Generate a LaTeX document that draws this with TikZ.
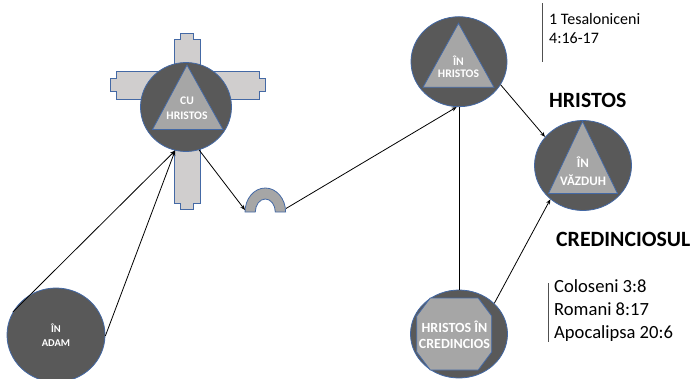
\documentclass[tikz,border=0pt]{standalone}
\usepackage{fontspec}
\setmainfont{Carlito}
\usetikzlibrary{shapes.geometric,arrows.meta,calc}
\definecolor{dk}{RGB}{89,89,89}
\definecolor{edge}{RGB}{68,105,165}
\definecolor{trif}{RGB}{166,166,166}
\definecolor{crossc}{RGB}{208,206,206}
\definecolor{barc}{RGB}{80,80,80}
\begin{document}
\begin{tikzpicture}[x=1pt,y=-1pt,
 disc/.style={ellipse,draw=edge,fill=dk,line width=0.8pt,inner sep=0pt},
 innershape/.style={draw=edge,fill=trif,line width=0.8pt,line join=miter},
 lbl/.style={text=white,align=center,inner sep=0pt},
 conn/.style={draw=black,line width=0.8pt},
 arr/.style={conn,-{Stealth[length=5pt,width=4pt]}},
 reftext/.style={anchor=base west,inner sep=0pt,font=\fontsize{16}{20}\selectfont},
 listtext/.style={anchor=base west,inner sep=0pt,font=\fontsize{18.6}{22}\selectfont},
 bigtext/.style={anchor=base west,inner sep=0pt,font=\fontsize{21.8}{26}\selectfont\bfseries},
 vbar/.style={draw=barc,line width=1.2pt}]
\useasboundingbox (0,0) rectangle (694,378);
\clip (0,0) rectangle (694,378);

% cross
\draw[innershape,fill=crossc] (180.5,33) -- (193.5,33) -- (193.5,39) -- (200,39) -- (200,71.5) -- (259,71.5) -- (259,78.3) -- (265,78.3) -- (265,91.7) -- (259,91.7) -- (259,99) -- (200,99) -- (200,203) -- (193.5,203) -- (193.5,209) -- (180.5,209) -- (180.5,203) -- (174,203) -- (174,99) -- (116.7,99) -- (116.7,91.7) -- (110,91.7) -- (110,78.3) -- (116.7,78.3) -- (116.7,71.5) -- (174,71.5) -- (174,39) -- (180.5,39) -- cycle;

% CU HRISTOS
\node[disc,minimum width=91pt,minimum height=89pt] (cu) at (186,107) {};
\draw[innershape] (187,65) -- (223,129.5) -- (152.5,129.5) -- cycle;
\node[lbl,font=\fontsize{11.6}{15}\selectfont\bfseries] (cut) at (187,108) {CU\\HRISTOS};

% arch
\draw[innershape] (245,212) arc[start angle=180,end angle=360,x radius=20.3,y radius=24] -- (275.3,212) arc[start angle=0,end angle=-180,x radius=10,y radius=13] -- cycle;
\coordinate (archL) at (245,210);
\coordinate (archR) at (286,208.5);

% IN HRISTOS
\node[disc,minimum width=96pt,minimum height=90pt] (inhr) at (459,61.7) {};
\draw[innershape] (458.5,23.3) -- (494,87.3) -- (423,87.3) -- cycle;
\node[lbl,font=\fontsize{11.6}{12.5}\selectfont\bfseries] (inhrt) at (458.5,67) {ÎN\\HRISTOS};

% IN VAZDUH
\node[disc,minimum width=97pt,minimum height=90pt] (vaz) at (583,165.5) {};
\draw[innershape] (582.5,121.5) -- (617.5,193.5) -- (548.5,193.5) -- cycle;
\node[lbl,font=\fontsize{13}{18}\selectfont\bfseries] (vazt) at (583,171) {ÎN\\VĂZDUH};

% IN ADAM
\node[disc,minimum width=98pt,minimum height=94pt] (adam) at (56,335) {};
\node[lbl,font=\fontsize{10.5}{14}\selectfont\bfseries] (adamt) at (56,335) {ÎN\\ADAM};

% HRISTOS IN CREDINCIOS
\node[disc,minimum width=97pt,minimum height=88pt] (cred) at (459,334) {};
\draw[innershape] (430.2,298) -- (478.2,298) -- (491.7,316) -- (491.7,352) -- (478.2,370) -- (430.2,370) -- (416.7,352) -- (416.7,316) -- cycle;
\node[lbl,font=\fontsize{14}{16}\selectfont\bfseries] (credt) at (454.5,335) {HRISTOS ÎN\\CREDINCIOS};

% connectors
\draw[arr] (adam.152) -- (cu.-104);
\draw[arr] (adam.-1) -- (cu.-104);
\draw[arr] (cu.-73) -- (archL);
\draw[arr] (archR) -- (inhr.-93);
\draw[conn] (cred.north) -- (inhr.south);
\draw[arr] (inhr.-29) -- (vaz.143);
\draw[arr] (cred.41) -- (vaz.-134);

% texts
\draw[vbar] (542.7,3.3) -- (542.7,61.7);
\node[reftext] (tes1) at (549,24) {1 Tesaloniceni};
\node[reftext] (tes2) at (549,43.5) {4:16-17};
\node[bigtext] (hr) at (549,107.5) {HRISTOS};
\node[bigtext] (credl) at (556,246.7) {CREDINCIOSUL};
\draw[vbar] (548.3,283) -- (548.3,341.7);
\node[listtext] (l1) at (554,292.7) {Coloseni 3:8};
\node[listtext] (l2) at (554,315.7) {Romani 8:17};
\node[listtext] (l3) at (554,338.5) {Apocalipsa 20:6};
\end{tikzpicture}
\end{document}
